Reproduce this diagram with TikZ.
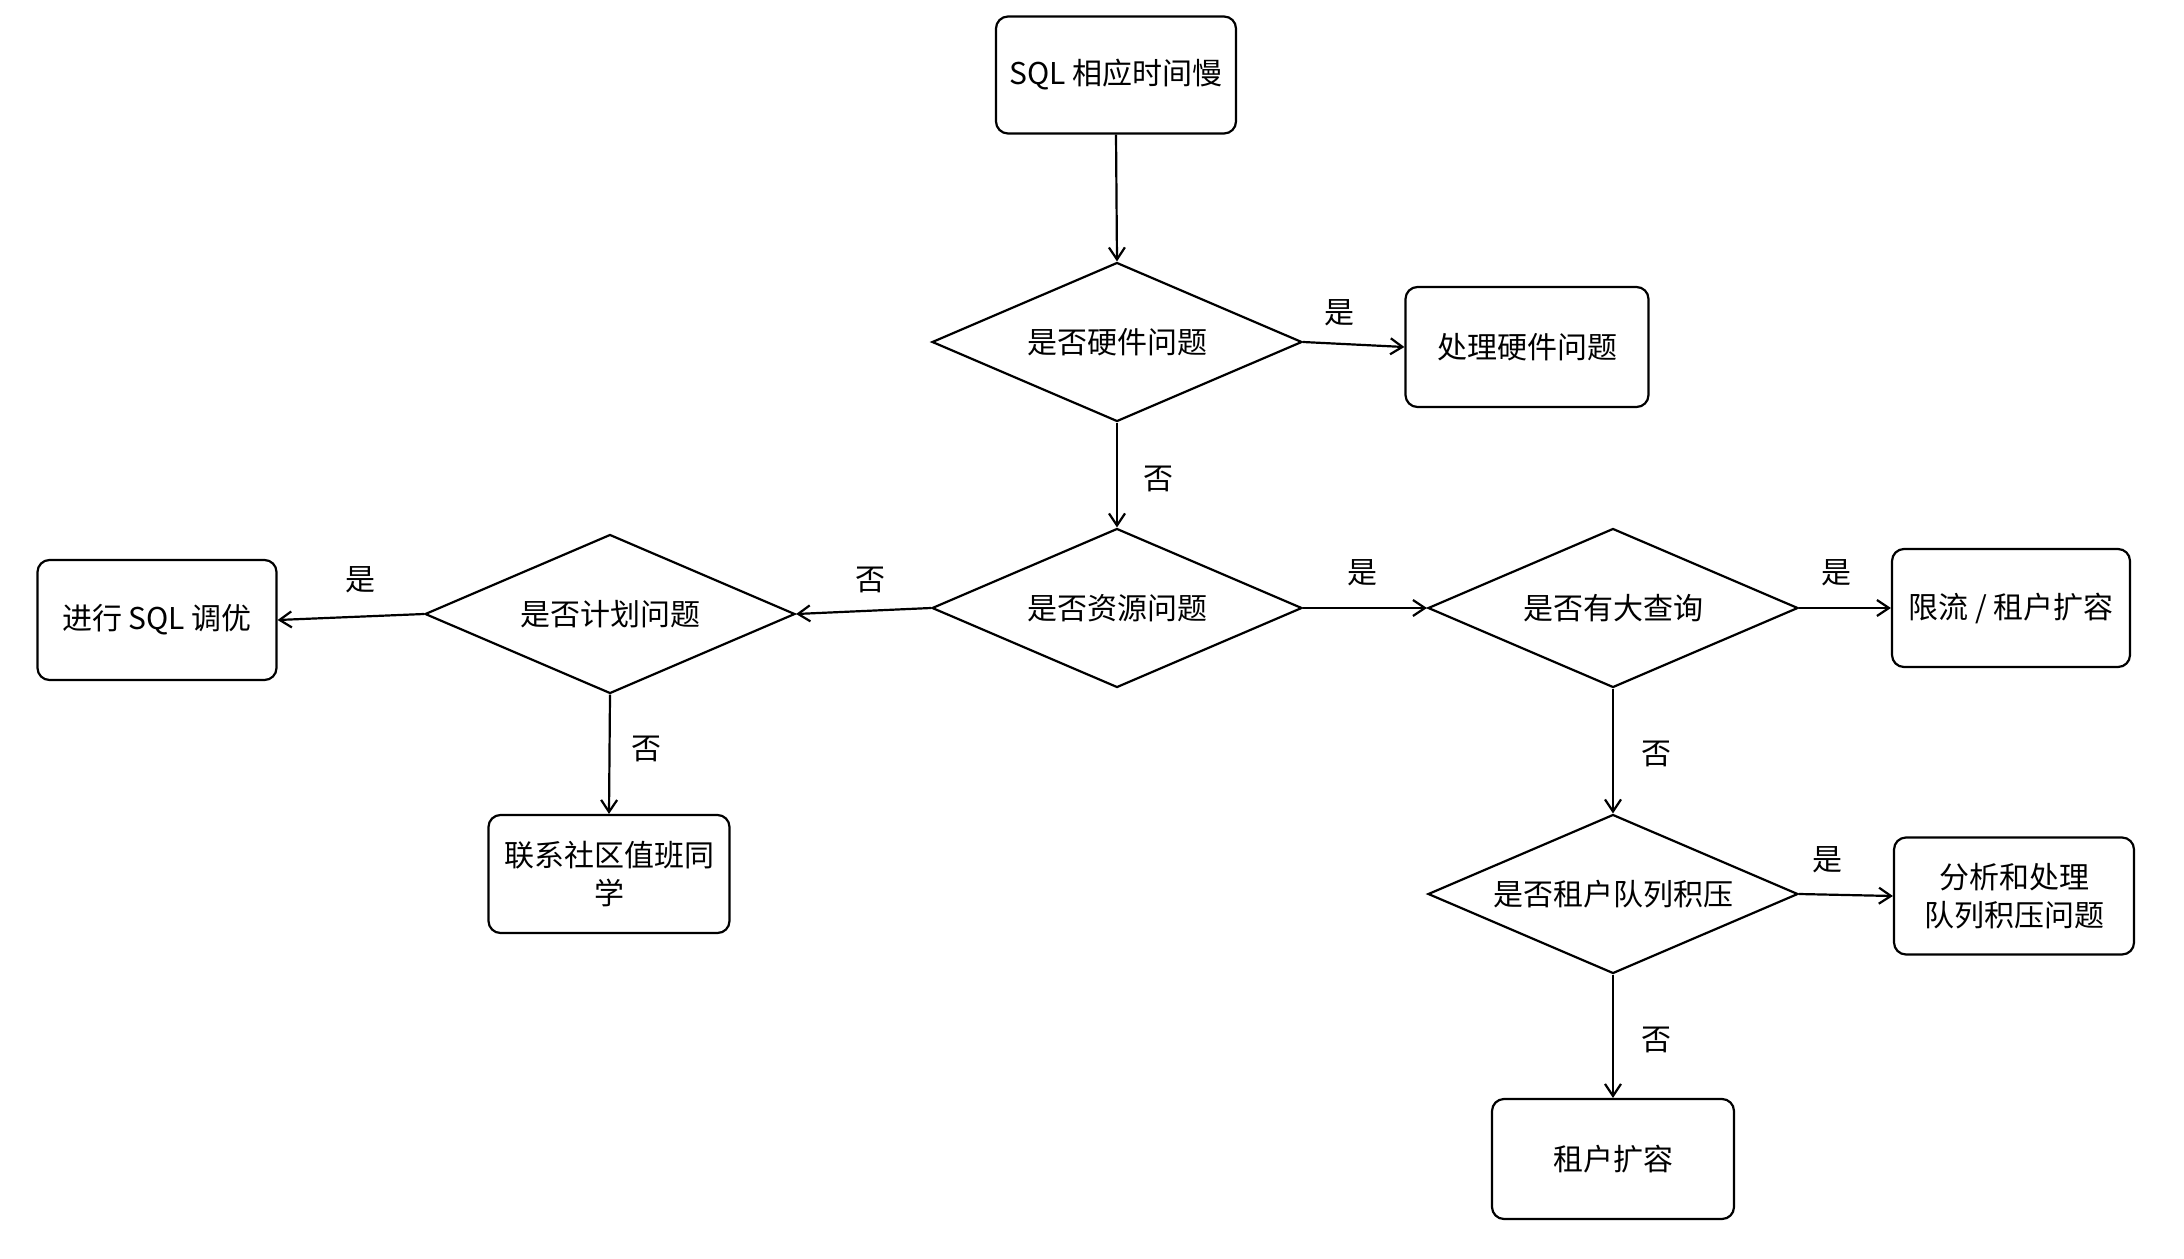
\documentclass[tikz,border=0pt]{standalone}
\usepackage{fontspec}
\newfontfamily\cjk{Noto Sans CJK SC}
\usetikzlibrary{shapes.geometric,arrows.meta}
\begin{document}
\begin{tikzpicture}[x=0.5pt,y=-0.5pt,
  txt/.style={font=\cjk\fontsize{15}{19}\selectfont},
  box/.style={txt, draw, line width=1.1pt, rounded corners=6pt, align=center, inner sep=0pt},
  dec/.style={txt, draw, diamond, shape aspect=2.33, line width=1.1pt, inner sep=0pt, minimum width=185pt, minimum height=79.5pt},
  lbl/.style={txt},
  conn/.style={line width=1.1pt, -{Straight Barb[length=6pt,width=8pt,line width=1.1pt]}}
]
\useasboundingbox (0,0) rectangle (2184,1258);
\fill[white] (0,0) rectangle (2184,1258);

\node[box, minimum width=120pt, minimum height=58.5pt] (start) at (1116,75) {SQL 相应时间慢};
\node[dec] (d1) at (1117,342) {是否硬件问题};
\node[box, minimum width=121.5pt, minimum height=60pt] (hw) at (1527,347) {处理硬件问题};
\node[dec] (d2) at (1117,608) {是否资源问题};
\node[dec] (d3) at (610,614) {是否计划问题};
\node[box, minimum width=119.5pt, minimum height=60pt] (tune) at (157,620) {进行 SQL 调优};
\node[box, minimum width=120.5pt, minimum height=59pt] (duty) at (609,874) {联系社区值班同\\学};
\node[dec] (d4) at (1613,608) {是否有大查询};
\node[box, minimum width=119pt, minimum height=59pt] (limit) at (2011,608) {限流 / 租户扩容};
\node[dec] (d5) at (1613,894) {是否租户队列积压};
\node[box, minimum width=120pt, minimum height=58.5pt] (queue) at (2014,896) {分析和处理\\队列积压问题};
\node[box, minimum width=121pt, minimum height=60pt] (scale) at (1613,1159) {租户扩容};

\draw[conn] (start.south) -- (d1.north);
\draw[conn] (d1.east) -- (hw.west);
\draw[conn] (d1.south) -- (d2.north);
\draw[conn] (d2.west) -- (d3.east);
\draw[conn] (d3.west) -- (tune.east);
\draw[conn] (d3.south) -- (duty.north);
\draw[conn] (d2.east) -- (d4.west);
\draw[conn] (d4.east) -- (limit.west);
\draw[conn] (d4.south) -- (d5.north);
\draw[conn] (d5.east) -- (queue.west);
\draw[conn] (d5.south) -- (scale.north);

\node[lbl] (l1) at (1339,313) {是};
\node[lbl] (l2) at (1158,479) {否};
\node[lbl] (l3) at (870,580) {否};
\node[lbl] (l4) at (360,580) {是};
\node[lbl] (l5) at (646,749) {否};
\node[lbl] (l6) at (1362,573) {是};
\node[lbl] (l7) at (1836,573) {是};
\node[lbl] (l8) at (1656,754) {否};
\node[lbl] (l9) at (1827,860) {是};
\node[lbl] (l10) at (1656,1040) {否};
\end{tikzpicture}
\end{document}
